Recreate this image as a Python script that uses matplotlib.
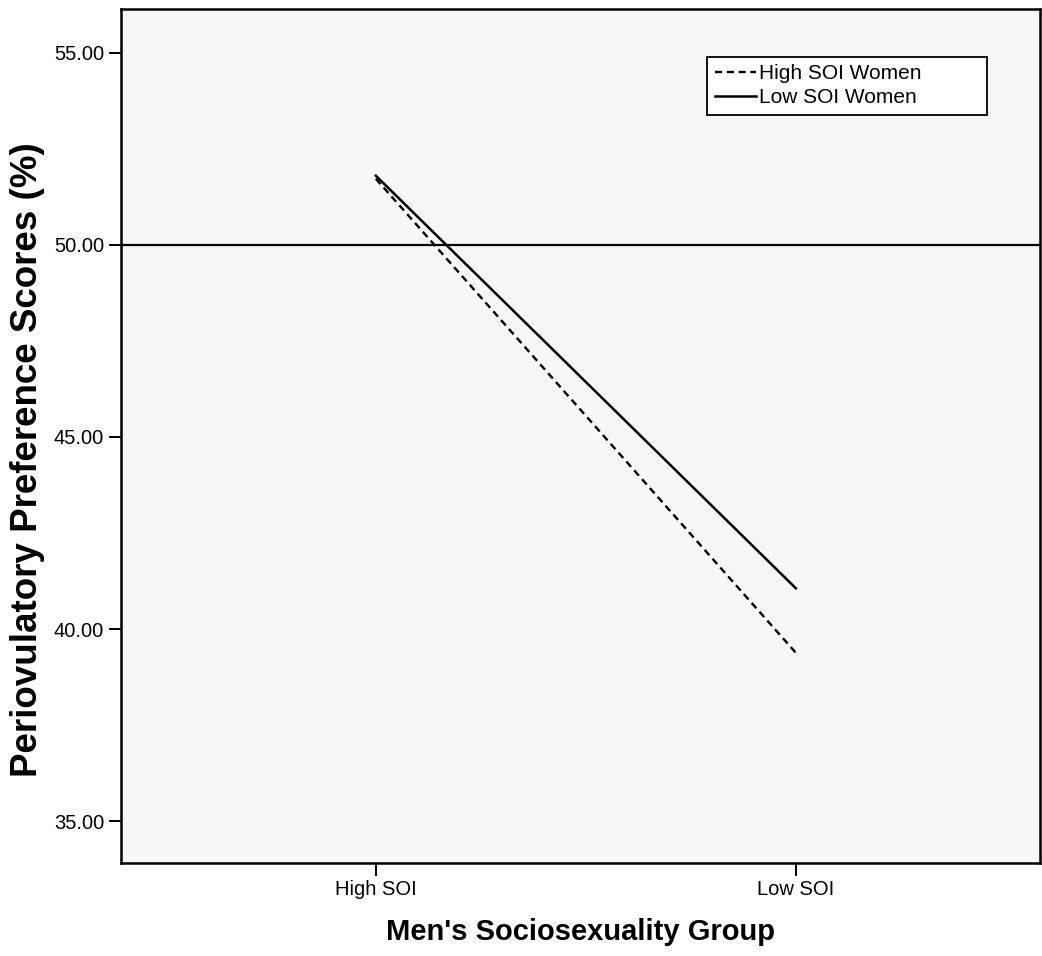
import matplotlib
matplotlib.use("Agg")
import matplotlib.pyplot as plt

plt.rcParams['font.family'] = ['Liberation Sans', 'DejaVu Sans']

# Data
groups = ["High SOI", "Low SOI"]
high_soi_women = [51.72, 39.38]
low_soi_women = [51.80, 41.06]
reference_value = 50.0
yticks = [35, 40, 45, 50, 55]
series_labels = ["High SOI Women", "Low SOI Women"]

fig = plt.figure(figsize=(10.42, 9.56), dpi=100)
ax = fig.add_axes([0.116, 0.0973, 0.882, 0.8933])
ax.set_facecolor('#f7f7f7')

x = list(range(len(groups)))
ax.axhline(reference_value, color='black', linewidth=1.6, zorder=1)
ax.plot(x, high_soi_women, color='black', linewidth=1.7,
        linestyle=(0, (3, 2)), label=series_labels[0] + " " * 10, zorder=3)
ax.plot(x, low_soi_women, color='black', linewidth=1.8,
        linestyle='-', label=series_labels[1] + " " * 10, zorder=3)

ax.set_xlim(-0.607, 1.581)
ax.set_ylim(33.91, 56.14)
ax.set_xticks(x)
ax.set_xticklabels(groups)
ax.set_yticks(yticks)
ax.set_yticklabels([f"{v:.2f}" for v in yticks])

ax.tick_params(axis='both', direction='out', length=9, width=1.4,
               labelsize=14.5, pad=3, color='black')
for s in ax.spines.values():
    s.set_color('black')
    s.set_linewidth(1.8)

ax.set_xlabel("Men's Sociosexuality Group", fontsize=21, fontweight='bold',
              labelpad=14)
ax.set_ylabel("Periovulatory Preference Scores (%)", fontsize=26.5,
              fontweight='bold')
ax.yaxis.set_label_coords(-0.083, 0.472)

leg = ax.legend(loc='upper right', bbox_to_anchor=(0.942, 0.944),
                borderaxespad=0, fontsize=15, frameon=True, fancybox=False,
                edgecolor='black', facecolor='white', framealpha=1,
                handlelength=2.0, handletextpad=0.15, labelspacing=0.25,
                borderpad=0.35)
leg.get_frame().set_linewidth(1.3)
fig.savefig('out.png', dpi=100)
